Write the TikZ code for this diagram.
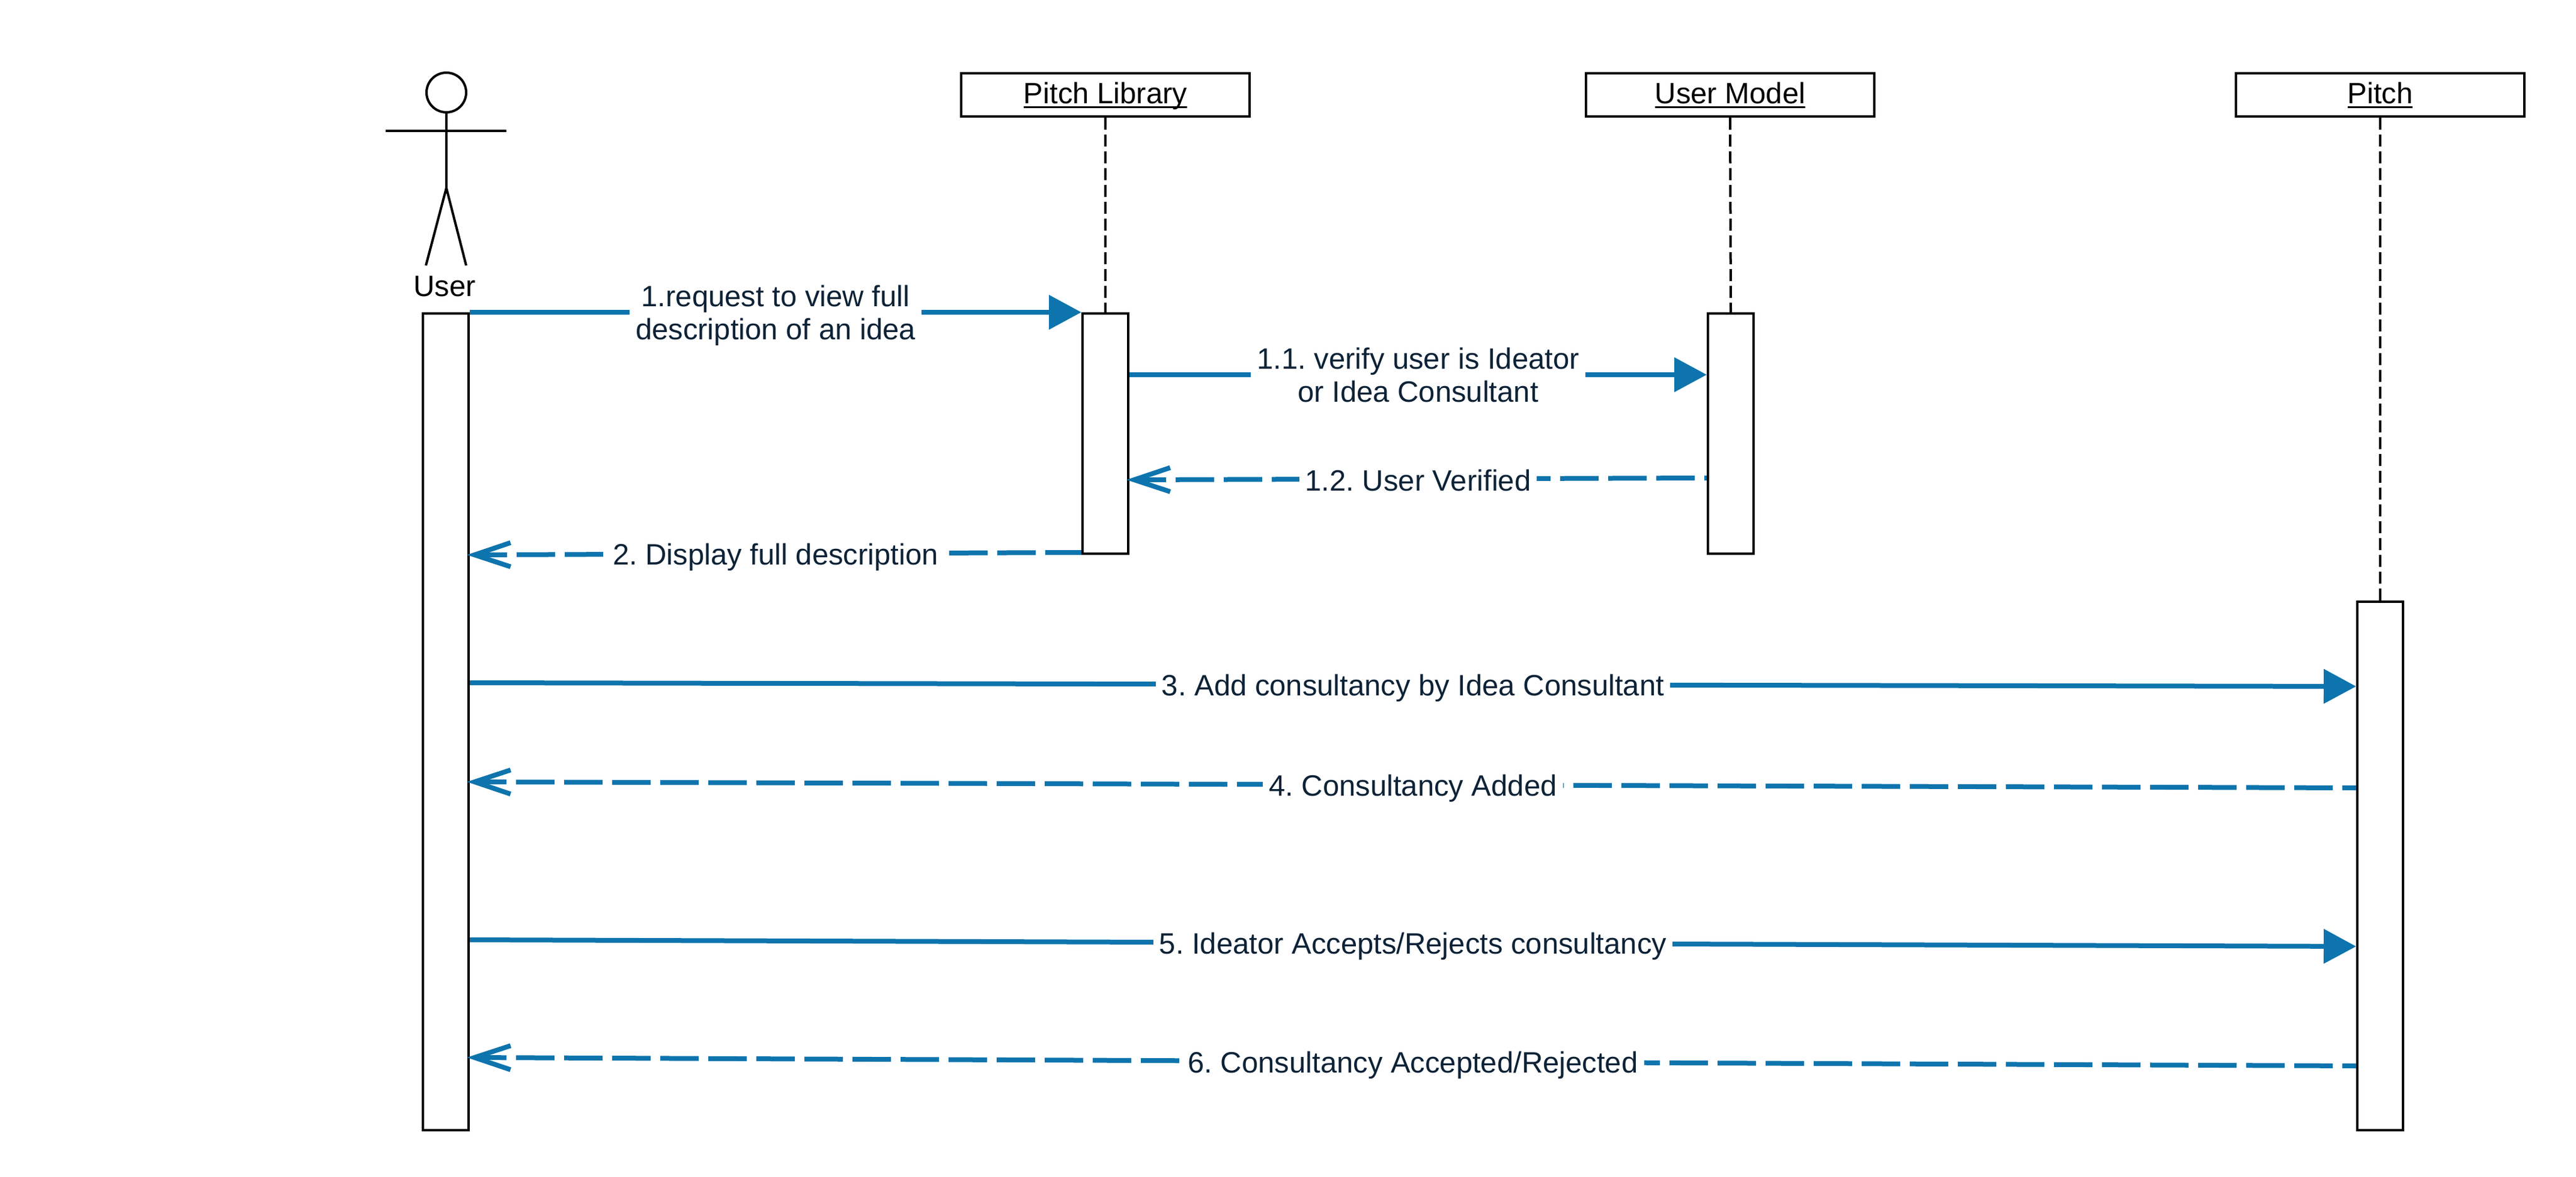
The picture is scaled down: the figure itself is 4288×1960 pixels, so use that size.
\documentclass[tikz,border=0pt]{standalone}
\usepackage{fontspec}
\setmainfont{Liberation Sans}
\usetikzlibrary{arrows.meta}
\definecolor{msgblue}{HTML}{0E74AD}
\definecolor{msgtext}{HTML}{0D2236}
\newcommand{\ulname}[1]{\setbox0=\hbox{#1}\rlap{\box0}\setbox0=\hbox{#1}\rule[-1.9pt]{\wd0}{0.75pt}}
\tikzset{
  headbox/.style={draw=black,line width=1pt,fill=white,minimum width=120pt,minimum height=18pt,inner sep=0pt,
    text height=9pt,text depth=2pt,
    font=\fontsize{12.25}{13.75}\selectfont\frenchspacing,text=black},
  actbar/.style={draw=black,line width=1pt,fill=white,minimum width=19pt,inner sep=0pt},
  lifeline/.style={draw=black,line width=1pt,dash pattern=on 5pt off 2pt},
  actorline/.style={draw=black,line width=1pt},
  msgsolid/.style={draw=msgblue,line width=2pt,-{Triangle[length=13.5pt,width=14pt,fill=msgblue]}},
  msgreply/.style={draw=msgblue,line width=2pt,shorten >=-1.2pt,-{Straight Barb[length=15pt,width=10pt]}},
  msglabel/.style={fill=white,text=msgtext,inner xsep=2.5pt,inner ysep=1pt,align=center,yshift=-1.4pt,
    font=\fontsize{12.25}{13.75}\selectfont\frenchspacing},
}
\begin{document}
\begin{tikzpicture}[x=0.25pt,y=-0.25pt]
\fill[white] (0,0) rectangle (4288,1960);
\useasboundingbox (0,0) rectangle (4288,1960);
% actor
\node[draw=black,line width=1pt,circle,minimum size=16.5pt,inner sep=0pt] (head) at (743,154) {};
\coordinate (armL) at (642,218);
\coordinate (armR) at (843,218);
\coordinate (hip) at (743,313);
\coordinate (legL) at (709,442);
\coordinate (legR) at (776,442);
\draw[actorline] (head.south) -- (hip);
\draw[actorline] (armL) -- (armR);
\draw[actorline] (legL) -- (hip) -- (legR);
\node[font=\fontsize{12.25}{13.75}\selectfont,inner sep=0pt] (user) at (740,477) {User};
% head boxes
\node[headbox] (lib) at (1840,158) {\ulname{Pitch Library}};
\node[headbox] (model) at (2880,158) {\ulname{User Model}};
\node[headbox] (pitch) at (3962,158) {\ulname{Pitch}};
% activations
\node[actbar,minimum height=340pt] (ua) at (742,1202) {};
\node[actbar,minimum height=100pt] (la) at (1840,722) {};
\node[actbar,minimum height=100pt] (ma) at (2881,722) {};
\node[actbar,minimum height=220pt] (pa) at (3962,1442) {};
% lifelines
\draw[lifeline] (lib.south) -- (la.north);
\draw[lifeline] (model.south) -- (ma.north);
\draw[lifeline] (pitch.south) -- (pa.north);
% messages
\draw[msgsolid] (ua.east |- 0,520) -- node[msglabel,midway] {1.request to view full\\description of an idea} (la.west |- 0,520);
\draw[msgsolid] (la.east |- 0,624) -- node[msglabel,midway,yshift=1.4pt] {1.1. verify user is Ideator\\or Idea Consultant} (ma.west |- 0,624);
\draw[msgreply,dash pattern=on 16pt off 4pt,dash phase=15pt] (ma.west |- 0,796) -- node[msglabel,midway,yshift=0.7pt] {1.2. User Verified} (la.east |- 0,799);
\draw[msgreply,dash pattern=on 16pt off 4pt,dash phase=1pt] (la.west |- 0,920) -- node[msglabel,midway] {2. Display full description} (ua.east |- 0,924);
\draw[msgsolid] (ua.east |- 0,1137) -- node[msglabel,midway] {3. Add consultancy by Idea Consultant} (pa.west |- 0,1143);
\draw[msgreply,dash pattern=on 16pt off 4pt,dash phase=10.25pt] (pa.west |- 0,1312) -- node[msglabel,midway] {4. Consultancy Added} (ua.east |- 0,1302);
\draw[msgsolid] (ua.east |- 0,1565) -- node[msglabel,midway] {5. Ideator Accepts/Rejects consultancy} (pa.west |- 0,1576);
\draw[msgreply,dash pattern=on 16pt off 4pt,dash phase=10.25pt] (pa.west |- 0,1775) -- node[msglabel,midway] {6. Consultancy Accepted/Rejected} (ua.east |- 0,1761);
\end{tikzpicture}
\end{document}
